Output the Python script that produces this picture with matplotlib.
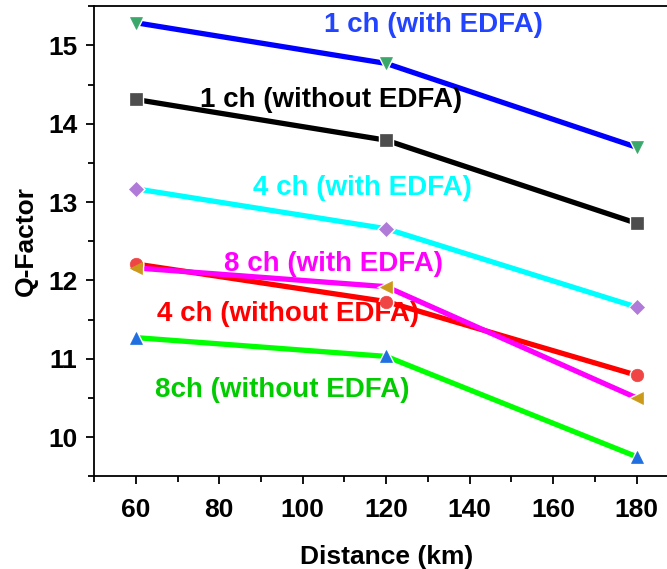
import matplotlib
matplotlib.use("Agg")
import matplotlib.pyplot as plt
from matplotlib.ticker import MultipleLocator
from matplotlib.transforms import IdentityTransform

plt.rcParams['font.family'] = ['Liberation Sans', 'DejaVu Sans']
plt.rcParams['font.weight'] = 'bold'

# Data
distance = [60, 120, 180]
q_1ch_edfa = [15.29, 14.77, 13.70]
q_1ch_no = [14.31, 13.79, 12.73]
q_4ch_edfa = [13.17, 12.66, 11.66]
q_4ch_no = [12.21, 11.73, 10.79]
q_8ch_edfa = [12.16, 11.92, 10.50]
q_8ch_no = [11.27, 11.03, 9.75]

labels = ['1 ch (with EDFA)', '1 ch (without EDFA)', '4 ch (with EDFA)',
          '4 ch (without EDFA)', '8 ch (with EDFA)', '8ch (without EDFA)']

W, H = 667, 569
fig = plt.figure(figsize=(W / 100, H / 100), dpi=100)
ax = fig.add_axes([0.141, 0.163, 0.876, 0.826])

series = [
    (q_1ch_edfa, '#0000ff', 'v', '#3aa86b'),
    (q_1ch_no, '#000000', 's', '#4d4d4d'),
    (q_4ch_edfa, '#00ffff', 'D', '#b07ad8'),
    (q_4ch_no, '#ff0000', 'o', '#f04545'),
    (q_8ch_edfa, '#ff00ff', '<', '#cc9a1a'),
    (q_8ch_no, '#00ff00', '^', '#1f6fe0'),
]
for y, lc, mk, mc in series:
    ax.plot(distance, y, color=lc, lw=3.8, solid_capstyle='butt', zorder=2)
    ms = 9 if mk != 'D' else 7.5
    # white ring gives the gap between line and marker
    ax.plot(distance, y, ls='none', marker=mk, ms=ms, mfc=mc, mec='white',
            mew=2.5, zorder=3)
    ax.plot(distance, y, ls='none', marker=mk, ms=ms, mfc=mc, mec=mc,
            mew=0.5, zorder=4)

# Curve labels (pixel positions, from top-left)
label_pos = [(433, 25, '#2244ff'), (331, 100, 'black'), (362, 188, '#00ffff'),
             (288, 314, '#ff0000'), (333, 264, '#ff00ff'), (282, 390, '#00cc00')]
for lab, (px, py, c) in zip(labels, label_pos):
    ax.text(px, H - py, lab, color=c, fontsize=20, ha='center', va='center',
            transform=IdentityTransform())

ax.set_xlim(50, 190)
ax.set_ylim(9.5, 15.5)
ax.xaxis.set_major_locator(MultipleLocator(20))
ax.xaxis.set_minor_locator(MultipleLocator(10))
ax.yaxis.set_major_locator(MultipleLocator(1))
ax.yaxis.set_minor_locator(MultipleLocator(0.5))
ax.tick_params(which='both', direction='out', width=1.3)
ax.tick_params(which='major', length=6, labelsize=19)
ax.tick_params(axis='x', which='major', pad=10)
ax.tick_params(axis='y', which='major', pad=6)
ax.tick_params(which='minor', length=4)
for s in ax.spines.values():
    s.set_linewidth(1.3)

ax.set_xlabel('Distance (km)', fontsize=19, fontweight='bold', labelpad=16)
ax.set_ylabel('Q-Factor', fontsize=19, fontweight='bold', labelpad=7)

fig.savefig('out.png', dpi=100)
